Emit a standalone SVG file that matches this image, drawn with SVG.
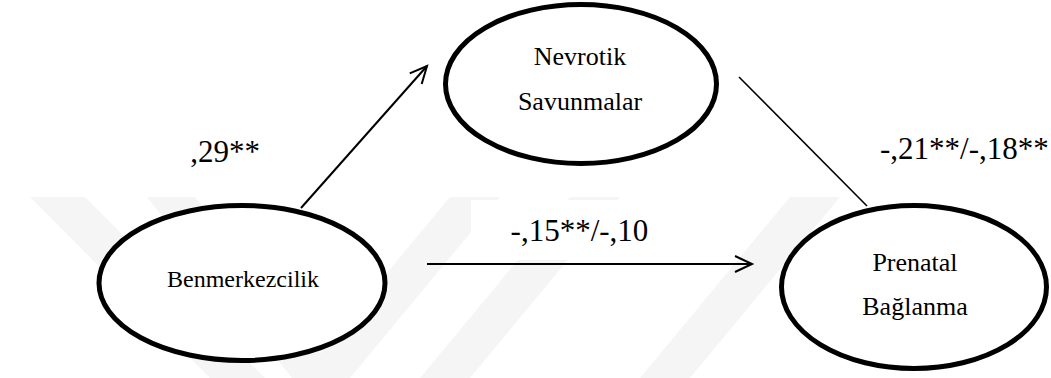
<svg xmlns="http://www.w3.org/2000/svg" width="1051" height="378" viewBox="0 0 1051 378">
<style>
.node{fill:#fff;stroke:#000;stroke-width:5}
.c{stroke:#000;fill:none}
.wm{fill:#f5f5f5}
.t{font-family:'Liberation Serif','Times New Roman',serif;fill:#000;text-anchor:middle}
.n{font-size:26px}
.l{font-size:31px}
</style>
<defs>
<marker id="ah" markerUnits="userSpaceOnUse" markerWidth="40" markerHeight="40" refX="0" refY="0" viewBox="-20 -20 40 40" orient="auto" overflow="visible">
<path d="M-17,-8 L0,0 L-17,8" fill="none" stroke="#000" stroke-width="2"/>
</marker>
</defs>
<rect width="1051" height="378" fill="#fff"/>
<g id="watermark">
<polygon class="wm" points="30,197 85,197 265,378 210,378"/>
<polygon class="wm" points="147,197 195,197 340,378 292,378"/>
<polygon class="wm" points="300,378 350,378 500,197 450,197"/>
<polygon class="wm" points="420,378 470,378 620,197 570,197"/>
<polygon class="wm" points="640,378 690,378 840,197 790,197"/>
</g>
<rect x="471" y="200" width="216" height="60" fill="#fff"/>
<g id="connectors">
<line class="c" x1="301" y1="208" x2="427" y2="66" stroke-width="2" marker-end="url(#ah)"/>
<line class="c" x1="739" y1="77" x2="867" y2="206" stroke-width="1.6"/>
<line class="c" x1="427" y1="264" x2="752" y2="264" stroke-width="2" marker-end="url(#ah)"/>
</g>
<g id="node-nevrotik">
<ellipse class="node" cx="581" cy="84" rx="135.5" ry="79.5"/>
<text class="t n" x="580" y="65">Nevrotik</text>
<text class="t n" x="580" y="110">Savunmalar</text>
</g>
<g id="node-benmerkezcilik">
<ellipse class="node" cx="242" cy="283" rx="143" ry="77.5"/>
<text class="t" x="243" y="287" font-size="24">Benmerkezcilik</text>
</g>
<g id="node-prenatal">
<ellipse class="node" cx="914" cy="287" rx="132.5" ry="81.5"/>
<text class="t n" x="915" y="271">Prenatal</text>
<text class="t n" x="915" y="315">Bağlanma</text>
</g>
<g id="labels">
<text class="t l" x="225" y="162">,29**</text>
<text class="t l" x="579.5" y="241">-,15**/-,10</text>
<text class="t l" x="880" y="159" text-anchor="start" style="text-anchor:start">-,21**/-,18**</text>
</g>
</svg>
